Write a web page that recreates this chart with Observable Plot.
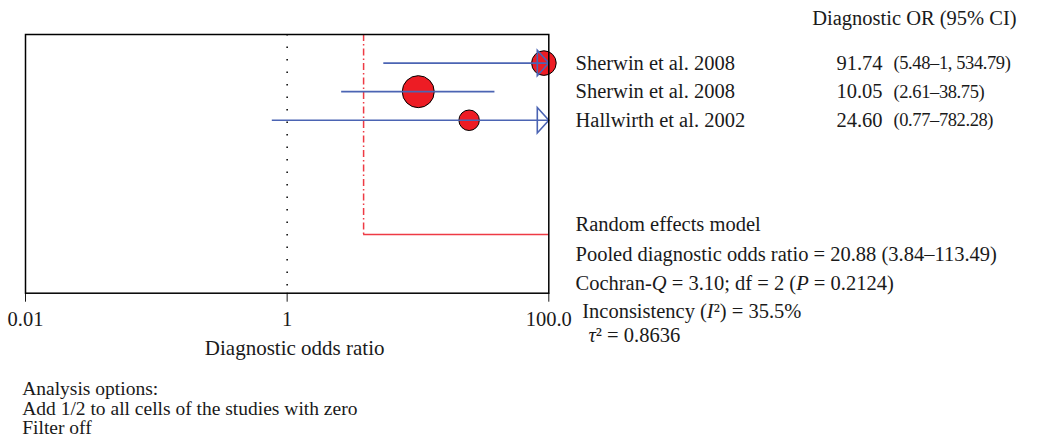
<!DOCTYPE html>
<html>
<head>
<meta charset="utf-8">
<script src="https://cdn.jsdelivr.net/npm/d3@7"></script>
<script src="https://cdn.jsdelivr.net/npm/@observablehq/plot@0.6"></script>
<style>
  html, body { margin: 0; padding: 0; background: #fff; }
  #chart { width: 1041px; height: 446px; }
</style>
</head>
<body>
<div id="chart"></div>
<script>
// ---- data ----
const studies = ["Sherwin et al. 2008", "Sherwin et al. 2008", "Hallwirth et al. 2002"];
const dor = [91.74, 10.05, 24.60];
const ciLow = [5.48, 2.61, 0.77];
const ciHigh = [1534.79, 38.75, 782.28];
const weights = [29.5, 50, 20.5];
const ciLabels = ["(5.48\u20131, 534.79)", "(2.61\u201338.75)", "(0.77\u2013782.28)"];
const pooledDor = 20.88;
const pooledLow = 3.84;
const pooledHigh = 113.49;
const cochranQ = "3.10", df = "2", pValue = "0.2124", i2 = "35.5%", tau2 = "0.8636";
const xTicks = [0.01, 1, 100];
const xTickLabels = ["0.01", "1", "100.0"];
const headerText = "Diagnostic OR (95% CI)";
const xLabel = "Diagnostic odds ratio";
const optionLines = ["Analysis options:", "Add 1/2 to all cells of the studies with zero", "Filter off"];

// ---- derived table ----
const table = studies.map((s, i) => ({
  study: s, row: i + 1, dor: dor[i], lo: ciLow[i], hi: ciHigh[i],
  w: weights[i], ci: ciLabels[i], orText: dor[i].toFixed(2)
}));
const xMax = xTicks[xTicks.length - 1];
const arrows = table.filter(d => d.hi > xMax);
const pooledRow = 7;

const summaryLines = [
  "Random effects model",
  `Pooled diagnostic odds ratio = ${pooledDor.toFixed(2)} (${pooledLow.toFixed(2)}\u2013${pooledHigh.toFixed(2)})`,
  `Cochran-_Q_ = ${cochranQ}; df = ${df} (_P_ = ${pValue})`,
  `Inconsistency (_I_\u00B2) = ${i2}`,
  `\u03C4\u00B2 = ${tau2}`
];
const summaryDx = [26.7, 26.7, 26.7, 33.4, 39.7];
const summaryDy = [190.1, 220.1, 249.4, 277.4, 301.1];

const blue = "#4b64b3";
const red = "#ed1c24";
const pooledRed = "#ee3a44";
const ink = "#1a1a1a";

const arrowHead = {
  draw(ctx) {
    ctx.moveTo(-11.5, -12.7);
    ctx.lineTo(0, 0);
    ctx.lineTo(-11.5, 12.7);
    ctx.closePath();
  }
};

const chart = Plot.plot({
  width: 1041,
  height: 446,
  marginLeft: 25,
  marginRight: 492.7,
  marginTop: 34,
  marginBottom: 153.3,
  style: { fontFamily: "'Liberation Serif', serif", fontSize: "20.5px", color: ink, background: "#fff" },
  x: {
    type: "log", domain: [0.01, 100], ticks: xTicks,
    tickFormat: d => xTickLabels[xTicks.indexOf(d)],
    tickSize: 9, tickPadding: 9.7, label: null
  },
  y: { domain: [0, 9.05], reverse: true, axis: null },
  r: { domain: [0, 50], range: [0, 16] },
  marks: [
    Plot.ruleX([1], { stroke: "black", strokeWidth: 1.5, strokeDasharray: "1.5,11" }),
    Plot.ruleX([pooledLow], { y1: 0, y2: pooledRow, stroke: pooledRed, strokeWidth: 1.5, strokeDasharray: "7,3,1.5,3" }),
    Plot.ruleY([pooledRow], { x1: pooledLow, x2: pooledHigh, stroke: pooledRed, strokeWidth: 1.5, clip: true }),
    Plot.dot(table, { x: "dor", y: "row", r: "w", fill: red, stroke: "black", strokeWidth: 1 }),
    Plot.ruleY(table, { y: "row", x1: "lo", x2: "hi", stroke: blue, strokeWidth: 1.6, clip: true }),
    Plot.dot(arrows, { x: () => xMax, y: "row", symbol: arrowHead, r: 5, fill: "none", stroke: blue, strokeWidth: 1.6 }),
    Plot.frame({ stroke: "black", strokeWidth: 1.5 }),
    // right-hand table
    Plot.text([headerText], { frameAnchor: "top-right", lineAnchor: "middle", dx: 263.4, dy: -15.6, textAnchor: "start", fill: ink }),
    Plot.text(table, { y: "row", text: "study", frameAnchor: "right", lineAnchor: "middle", dx: 26.7, textAnchor: "start", fill: ink }),
    Plot.text(table, { y: "row", text: "orText", frameAnchor: "right", lineAnchor: "middle", dx: 333.7, textAnchor: "end", fill: ink }),
    Plot.text(table, { y: "row", text: "ci", frameAnchor: "right", lineAnchor: "middle", dx: 344.7, textAnchor: "start", fill: ink, fontSize: 18.5 }),
    ...summaryLines.map((t, i) => Plot.text([t], { frameAnchor: "top-right", lineAnchor: "middle", dx: summaryDx[i], dy: summaryDy[i], textAnchor: "start", fill: ink })),
    // axis label
    Plot.text([xLabel], { frameAnchor: "bottom", lineAnchor: "middle", dx: 7.5, dy: 54.6, fill: ink, fontSize: 21 }),
    // analysis options (one multi-line block)
    Plot.text([optionLines.join("\n")], { frameAnchor: "bottom-left", lineAnchor: "top", lineHeight: 1.0, fontSize: 19.5, dx: -3.3, dy: 88.3, textAnchor: "start", fill: ink })
  ]
});

// letter-spacing for CI column, italic markup
chart.querySelectorAll("text").forEach(t => {
  const s = t.textContent;
  if (ciLabels.includes(s)) t.setAttribute("letter-spacing", "-0.4");
  if (s.includes("_")) {
    const html = s.replace(/&/g, "&amp;").replace(/</g, "&lt;")
      .replace(/_([^_]+)_/g, '<tspan font-style="italic">$1</tspan>');
    t.innerHTML = html;
  }
  if (s.startsWith("\u03C4")) {
    t.innerHTML = '<tspan font-style="italic">\u03C4</tspan>' + s.slice(1);
  }
});

document.getElementById("chart").appendChild(chart);
</script>
</body>
</html>
